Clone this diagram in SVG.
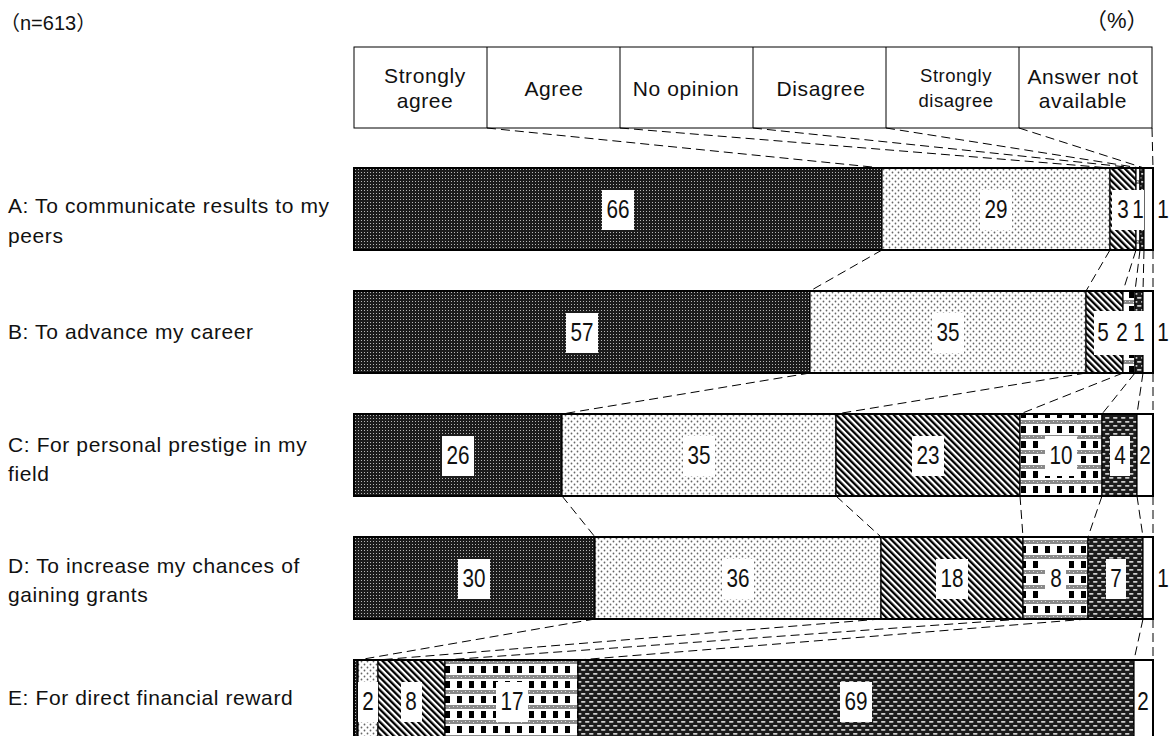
<svg xmlns="http://www.w3.org/2000/svg" width="1172" height="736" viewBox="0 0 1172 736">
<style>
text{font-family:"Liberation Sans",Arial,"Noto Sans CJK JP",sans-serif;fill:#111}
.lbl{font-size:21px;letter-spacing:0.6px}
.hd{font-size:21px;text-anchor:middle;letter-spacing:0.6px}
.hds{font-size:18.5px;text-anchor:middle;letter-spacing:0.5px}
.num{font-size:25px;text-anchor:middle}
.box{fill:#fff;stroke:none}
.conn line{stroke:#000;stroke-width:1;stroke-dasharray:9 5;fill:none}
.seg{stroke:#000;stroke-width:1.2}
.frame{fill:none;stroke:#000;stroke-width:2}
</style>
<defs>
<pattern id="pSA" width="3" height="3" patternUnits="userSpaceOnUse"><rect width="3" height="3" fill="#1c1c1c"/><rect x="1" y="1" width="1" height="1" fill="#b8b8b8"/></pattern>
<pattern id="pAG" width="6" height="6" patternUnits="userSpaceOnUse"><rect width="6" height="6" fill="#fff"/><circle cx="1.5" cy="1.5" r="0.9" fill="#666"/><circle cx="4.5" cy="4.5" r="0.9" fill="#666"/></pattern>
<pattern id="pNO" width="4.5" height="10" patternUnits="userSpaceOnUse" patternTransform="rotate(-45)"><rect width="4.5" height="10" fill="#fff"/><rect width="2.3" height="10" fill="#000"/></pattern>
<pattern id="pDI" width="12" height="15" patternUnits="userSpaceOnUse"><rect width="12" height="15" fill="#fff"/><rect y="0" width="12" height="4" fill="#8a8a8a"/><rect x="1" y="1" width="1" height="1" fill="#ddd"/><rect x="5" y="2" width="1" height="1" fill="#ddd"/><rect x="9" y="1" width="1" height="1" fill="#ddd"/><rect x="1" y="6" width="5" height="7" fill="#000"/></pattern>
<pattern id="pSD" width="8" height="8" patternUnits="userSpaceOnUse"><rect width="8" height="8" fill="#1c1c1c"/><rect x="1" y="1" width="4.5" height="1.7" rx="0.8" fill="#cfcfcf"/><rect x="5" y="5" width="4.5" height="1.7" rx="0.8" fill="#cfcfcf"/><rect x="-3" y="5" width="4.5" height="1.7" rx="0.8" fill="#cfcfcf"/></pattern>
</defs>

<text x="0" y="30" style="font-size:20px">（n=613）</text>
<text x="1085" y="28" style="font-size:22px">（%）</text>

<g id="legend">
<rect x="354" y="47" width="798" height="81" fill="#fff" stroke="#000" stroke-width="1"/>
<line x1="487" y1="47" x2="487" y2="128" stroke="#000"/>
<line x1="620" y1="47" x2="620" y2="128" stroke="#000"/>
<line x1="753" y1="47" x2="753" y2="128" stroke="#000"/>
<line x1="886" y1="47" x2="886" y2="128" stroke="#000"/>
<line x1="1019" y1="47" x2="1019" y2="128" stroke="#000"/>
<text class="hd" x="425" y="83">Strongly</text><text class="hd" x="425" y="108">agree</text>
<text class="hd" x="554" y="96">Agree</text>
<text class="hd" x="686" y="96">No opinion</text>
<text class="hd" x="821" y="96">Disagree</text>
<text class="hds" x="956" y="82">Strongly</text><text class="hds" x="956" y="107">disagree</text>
<text class="hd" x="1083" y="84">Answer not</text><text class="hd" x="1083" y="108">available</text>
</g>

<g id="connectors" class="conn">
<line x1="487" y1="128" x2="882" y2="168"/>
<line x1="620" y1="128" x2="1110" y2="168"/>
<line x1="753" y1="128" x2="1136" y2="168"/>
<line x1="886" y1="128" x2="1140" y2="168"/>
<line x1="1019" y1="128" x2="1144" y2="168"/>
<line x1="1152" y1="128" x2="1153" y2="168"/>

<line x1="882" y1="250" x2="810" y2="291"/>
<line x1="1110" y1="250" x2="1086" y2="291"/>
<line x1="1136" y1="250" x2="1123" y2="291"/>
<line x1="1140" y1="250" x2="1135" y2="291"/>
<line x1="1144" y1="250" x2="1143" y2="291"/>
<line x1="1153" y1="250" x2="1153" y2="291"/>

<line x1="810" y1="373" x2="562" y2="414"/>
<line x1="1086" y1="373" x2="836" y2="414"/>
<line x1="1123" y1="373" x2="1020" y2="414"/>
<line x1="1135" y1="373" x2="1102" y2="414"/>
<line x1="1143" y1="373" x2="1137" y2="414"/>
<line x1="1153" y1="373" x2="1153" y2="414"/>

<line x1="562" y1="496" x2="595" y2="537"/>
<line x1="836" y1="496" x2="881" y2="537"/>
<line x1="1020" y1="496" x2="1023" y2="537"/>
<line x1="1102" y1="496" x2="1088" y2="537"/>
<line x1="1137" y1="496" x2="1143" y2="537"/>
<line x1="1153" y1="496" x2="1153" y2="537"/>

<line x1="595" y1="619" x2="358" y2="660"/>
<line x1="881" y1="619" x2="378" y2="660"/>
<line x1="1023" y1="619" x2="445" y2="660"/>
<line x1="1088" y1="619" x2="578" y2="660"/>
<line x1="1143" y1="619" x2="1134" y2="660"/>
<line x1="1153" y1="619" x2="1153" y2="660"/>
</g>

<g id="row-A">
<text class="lbl" x="8" y="213">A: To communicate results to my</text>
<text class="lbl" x="8" y="243">peers</text>
<rect class="seg" x="354" y="168" width="528" height="82" fill="url(#pSA)"/>
<rect class="seg" x="882" y="168" width="228" height="82" fill="url(#pAG)"/>
<rect class="seg" x="1110" y="168" width="26" height="82" fill="url(#pNO)"/>
<rect class="seg" x="1136" y="168" width="4" height="82" fill="url(#pDI)"/>
<rect class="seg" x="1140" y="168" width="4" height="82" fill="url(#pSD)"/>
<rect class="seg" x="1144" y="168" width="9" height="82" fill="#fff"/>
<rect class="frame" x="354" y="168" width="799" height="82"/>
<rect class="box" x="602" y="190" width="32" height="40"/>
<rect class="box" x="980" y="190" width="32" height="40"/>
<rect class="box" x="1112" y="190" width="32" height="40"/>
<text class="num" x="618" y="218" textLength="23" lengthAdjust="spacingAndGlyphs">66</text>
<text class="num" x="996" y="218" textLength="23" lengthAdjust="spacingAndGlyphs">29</text>
<text class="num" x="1123" y="218" textLength="11.5" lengthAdjust="spacingAndGlyphs">3</text>
<text class="num" x="1138" y="218" textLength="11.5" lengthAdjust="spacingAndGlyphs">1</text>
<text class="num" x="1163" y="218" textLength="11.5" lengthAdjust="spacingAndGlyphs">1</text>
</g>

<g id="row-B">
<text class="lbl" x="8" y="339">B: To advance my career</text>
<rect class="seg" x="354" y="291" width="456" height="82" fill="url(#pSA)"/>
<rect class="seg" x="810" y="291" width="276" height="82" fill="url(#pAG)"/>
<rect class="seg" x="1086" y="291" width="37" height="82" fill="url(#pNO)"/>
<rect class="seg" x="1123" y="291" width="12" height="82" fill="url(#pDI)"/>
<rect class="seg" x="1135" y="291" width="8" height="82" fill="url(#pSD)"/>
<rect class="seg" x="1143" y="291" width="10" height="82" fill="#fff"/>
<rect class="frame" x="354" y="291" width="799" height="82"/>
<rect class="box" x="566" y="313" width="32" height="40"/>
<rect class="box" x="932" y="313" width="32" height="40"/>
<rect class="box" x="1094" y="311" width="56" height="44"/>
<text class="num" x="582" y="341" textLength="23" lengthAdjust="spacingAndGlyphs">57</text>
<text class="num" x="948" y="341" textLength="23" lengthAdjust="spacingAndGlyphs">35</text>
<text class="num" x="1103" y="341" textLength="11.5" lengthAdjust="spacingAndGlyphs">5</text>
<text class="num" x="1122" y="341" textLength="11.5" lengthAdjust="spacingAndGlyphs">2</text>
<text class="num" x="1139" y="341" textLength="11.5" lengthAdjust="spacingAndGlyphs">1</text>
<text class="num" x="1163" y="341" textLength="11.5" lengthAdjust="spacingAndGlyphs">1</text>
</g>

<g id="row-C">
<text class="lbl" x="8" y="452">C: For personal prestige in my</text>
<text class="lbl" x="8" y="481">field</text>
<rect class="seg" x="354" y="414" width="208" height="82" fill="url(#pSA)"/>
<rect class="seg" x="562" y="414" width="274" height="82" fill="url(#pAG)"/>
<rect class="seg" x="836" y="414" width="184" height="82" fill="url(#pNO)"/>
<rect class="seg" x="1020" y="414" width="82" height="82" fill="url(#pDI)"/>
<rect class="seg" x="1102" y="414" width="35" height="82" fill="url(#pSD)"/>
<rect class="seg" x="1137" y="414" width="16" height="82" fill="#fff"/>
<rect class="frame" x="354" y="414" width="799" height="82"/>
<rect class="box" x="442" y="436" width="32" height="40"/>
<rect class="box" x="683" y="436" width="32" height="40"/>
<rect class="box" x="912" y="436" width="32" height="40"/>
<rect class="box" x="1045" y="436" width="32" height="40"/>
<rect class="box" x="1110" y="436" width="20" height="40"/>
<text class="num" x="458" y="464" textLength="23" lengthAdjust="spacingAndGlyphs">26</text>
<text class="num" x="699" y="464" textLength="23" lengthAdjust="spacingAndGlyphs">35</text>
<text class="num" x="928" y="464" textLength="23" lengthAdjust="spacingAndGlyphs">23</text>
<text class="num" x="1061" y="464" textLength="23" lengthAdjust="spacingAndGlyphs">10</text>
<text class="num" x="1120" y="464" textLength="11.5" lengthAdjust="spacingAndGlyphs">4</text>
<text class="num" x="1145" y="464" textLength="11.5" lengthAdjust="spacingAndGlyphs">2</text>
</g>

<g id="row-D">
<text class="lbl" x="8" y="573">D: To increase my chances of</text>
<text class="lbl" x="8" y="602">gaining grants</text>
<rect class="seg" x="354" y="537" width="241" height="82" fill="url(#pSA)"/>
<rect class="seg" x="595" y="537" width="286" height="82" fill="url(#pAG)"/>
<rect class="seg" x="881" y="537" width="142" height="82" fill="url(#pNO)"/>
<rect class="seg" x="1023" y="537" width="65" height="82" fill="url(#pDI)"/>
<rect class="seg" x="1088" y="537" width="55" height="82" fill="url(#pSD)"/>
<rect class="seg" x="1143" y="537" width="10" height="82" fill="#fff"/>
<rect class="frame" x="354" y="537" width="799" height="82"/>
<rect class="box" x="458" y="559" width="32" height="40"/>
<rect class="box" x="722" y="559" width="32" height="40"/>
<rect class="box" x="936" y="559" width="32" height="40"/>
<rect class="box" x="1045" y="559" width="21" height="40"/>
<rect class="box" x="1106" y="559" width="20" height="40"/>
<text class="num" x="474" y="587" textLength="23" lengthAdjust="spacingAndGlyphs">30</text>
<text class="num" x="738" y="587" textLength="23" lengthAdjust="spacingAndGlyphs">36</text>
<text class="num" x="952" y="587" textLength="23" lengthAdjust="spacingAndGlyphs">18</text>
<text class="num" x="1056" y="587" textLength="11.5" lengthAdjust="spacingAndGlyphs">8</text>
<text class="num" x="1116" y="587" textLength="11.5" lengthAdjust="spacingAndGlyphs">7</text>
<text class="num" x="1163" y="587" textLength="11.5" lengthAdjust="spacingAndGlyphs">1</text>
</g>

<g id="row-E">
<text class="lbl" x="8" y="705">E: For direct financial reward</text>
<rect class="seg" x="354" y="660" width="4" height="82" fill="url(#pSA)"/>
<rect class="seg" x="358" y="660" width="20" height="82" fill="url(#pAG)"/>
<rect class="seg" x="378" y="660" width="67" height="82" fill="url(#pNO)"/>
<rect class="seg" x="445" y="660" width="133" height="82" fill="url(#pDI)"/>
<rect class="seg" x="578" y="660" width="556" height="82" fill="url(#pSD)"/>
<rect class="seg" x="1134" y="660" width="19" height="82" fill="#fff"/>
<rect class="frame" x="354" y="660" width="799" height="82"/>
<rect class="box" x="358" y="682" width="20" height="40"/>
<rect class="box" x="401" y="682" width="21" height="40"/>
<rect class="box" x="496" y="682" width="32" height="40"/>
<rect class="box" x="840" y="682" width="32" height="40"/>
<text class="num" x="368" y="710" textLength="11.5" lengthAdjust="spacingAndGlyphs">2</text>
<text class="num" x="411" y="710" textLength="11.5" lengthAdjust="spacingAndGlyphs">8</text>
<text class="num" x="512" y="710" textLength="23" lengthAdjust="spacingAndGlyphs">17</text>
<text class="num" x="856" y="710" textLength="23" lengthAdjust="spacingAndGlyphs">69</text>
<text class="num" x="1143" y="710" textLength="11.5" lengthAdjust="spacingAndGlyphs">2</text>
</g>
</svg>
